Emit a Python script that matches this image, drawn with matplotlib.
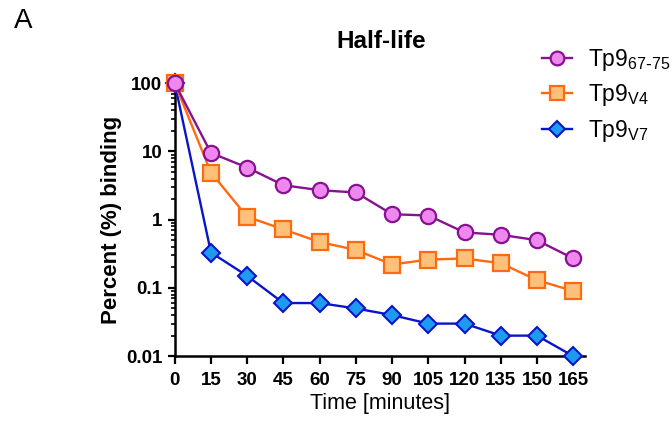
import matplotlib
matplotlib.use("Agg")
import matplotlib.pyplot as plt
from matplotlib.ticker import LogLocator, FixedLocator, FixedFormatter, NullFormatter

time_min = [0, 15, 30, 45, 60, 75, 90, 105, 120, 135, 150, 165]
tp9_67_75 = [100, 9.5, 5.8, 3.2, 2.7, 2.5, 1.2, 1.15, 0.65, 0.6, 0.5, 0.27]
tp9_v4 = [100, 4.9, 1.1, 0.72, 0.47, 0.36, 0.22, 0.26, 0.27, 0.23, 0.13, 0.09]
tp9_v7 = [100, 0.33, 0.15, 0.06, 0.06, 0.05, 0.04, 0.03, 0.03, 0.02, 0.02, 0.01]
y_ticks = [0.01, 0.1, 1, 10, 100]
y_tick_labels = ["0.01", "0.1", "1", "10", "100"]

plt.rcParams['font.family'] = ['Liberation Sans', 'DejaVu Sans']

fig = plt.figure(figsize=(6.72, 4.22), dpi=100)
ax = fig.add_axes([0.26, 0.156, 0.611, 0.647])

ax.plot(time_min, tp9_v7, color='#0A14C8', lw=1.7, marker='D', ms=9,
        mfc='#1E9BF0', mec='#0A14C8', mew=1.5, label='Tp9$_{\\mathregular{V7}}$',
        zorder=3, clip_on=False)
ax.plot(time_min, tp9_v4, color='#FF6A10', lw=1.7, marker='s', ms=11,
        mfc='#FFC07A', mec='#FF6A10', mew=1.6, label='Tp9$_{\\mathregular{V4}}$',
        zorder=4, clip_on=False)
ax.plot(time_min, tp9_67_75, color='#86128F', lw=1.7, marker='o', ms=11,
        mfc='#EE88EE', mec='#86128F', mew=1.6, label='Tp9$_{\\mathregular{67\\text{-}75}}$',
        zorder=5, clip_on=False)

ax.set_yscale('log')
ax.set_ylim(0.01, 100)
ax.set_xlim(0, 170)
ax.yaxis.set_major_locator(FixedLocator(y_ticks))
ax.yaxis.set_major_formatter(FixedFormatter(y_tick_labels))
ax.yaxis.set_minor_locator(LogLocator(base=10, subs=range(2, 10)))
ax.yaxis.set_minor_formatter(NullFormatter())
ax.set_xticks(time_min)
ax.set_xticklabels([str(t) for t in time_min])

for s in ['top', 'right']:
    ax.spines[s].set_visible(False)
for s in ['left', 'bottom']:
    ax.spines[s].set_linewidth(1.8)

ax.tick_params(axis='x', which='major', width=1.6, length=5.5, labelsize=13.5, pad=6)
ax.tick_params(axis='y', which='major', width=1.6, length=5, labelsize=13.5, pad=4)
ax.tick_params(axis='y', which='minor', width=1.2, length=3)
for lab in ax.get_xticklabels() + ax.get_yticklabels():
    lab.set_fontweight('bold')

ax.set_xlabel('Time [minutes]', fontsize=15.5, labelpad=3)
ax.set_ylabel('Percent (%) binding', fontsize=16, fontweight='bold', labelpad=3)
fig.text(381 / 672, 1 - 42 / 422, 'Half-life', fontsize=17.5, fontweight='bold',
         ha='center', va='center')
fig.text(14 / 672, 1 - 21 / 422, 'A', fontsize=20, ha='left', va='center')

handles, labels = ax.get_legend_handles_labels()
leg = fig.legend(handles[::-1], labels[::-1], loc='upper left',
                 bbox_to_anchor=(535 / 672, 1 - 40 / 422),
                 frameon=False, fontsize=16.5, handlelength=1.3, labelspacing=0.42,
                 handletextpad=0.7, borderaxespad=0, borderpad=0.3, markerscale=0.9)

fig.savefig('out.png', dpi=100)
